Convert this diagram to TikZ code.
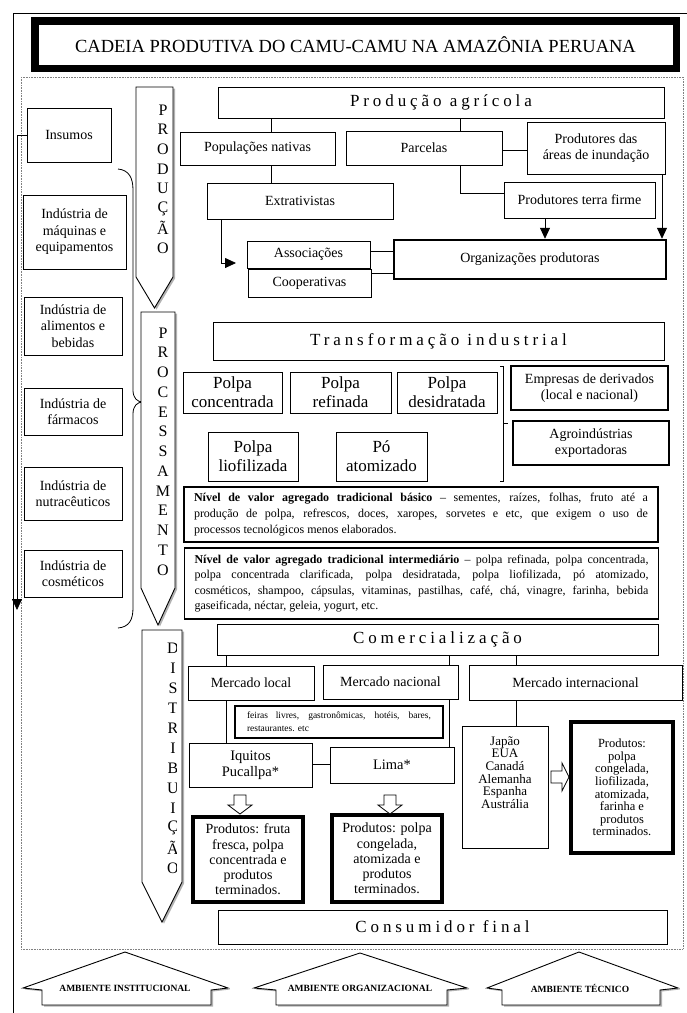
\documentclass[tikz,border=0pt]{standalone}
\usepackage{fontspec}
\setmainfont{Liberation Serif}
\newfontfamily\spacedfont[LetterSpace=23]{Liberation Serif}
\usetikzlibrary{arrows.meta,shadows}
\tolerance=9999
\hyphenpenalty=10000
\begin{document}
\begin{tikzpicture}[x=1pt,y=-1pt,
  every node/.style={inner sep=0pt},
  box/.style={draw, line width=0.8pt, align=center, font=\fontsize{14}{16.4}\selectfont},
  bigbox/.style={box, font=\fontsize{17}{19.3}\selectfont},
  headbox/.style={box, font=\spacedfont\fontsize{17}{20}\selectfont},
  thickbox/.style={box, line width=3.5pt, font=\fontsize{14}{15.2}\selectfont},
  para/.style={draw, line width=1.1pt, inner xsep=10pt, text width=454pt, align=justify},
  link/.style={draw, line width=0.8pt},
  arr/.style={link, -{Triangle[length=11pt,width=10pt]}},
  stage/.style={draw, line width=0.9pt, fill=white, drop shadow={shadow xshift=2pt, shadow yshift=-1.5pt, opacity=0.3, fill=black}},
  stletter/.style={font=\fontsize{16}{16}\selectfont},
  hollow/.style={draw, line width=0.8pt, fill=white},
  envtext/.style={font=\bfseries\fontsize{9.5}{10}\selectfont},
  dotframe/.style={draw=gray, line width=0.6pt, dash pattern=on 0.8pt off 0.8pt}
]
\useasboundingbox (0,0) rectangle (687,1013);
\fill[white] (0,0) rectangle (687,1013);

% frames
\draw[line width=0.8pt] (13,1013) -- (13,13) -- (687,13);
\path[dotframe] (21,77) rectangle (683,949);

% title
\node[draw, line width=7.5pt, minimum width=641.5, minimum height=47.5, font=\fontsize{18.5}{20}\selectfont] (title) at (355.5,44.5) {CADEIA PRODUTIVA DO CAMU-CAMU NA AMAZÔNIA PERUANA};

% left column
\node[box, minimum width=84, minimum height=54] (insumos) at (69,135) {Insumos};
\node[box, minimum width=103, minimum height=74] (maq) at (74.5,232) {Indústria de\\máquinas e\\equipamentos};
\node[box, minimum width=98, minimum height=58] (alim) at (73,326) {Indústria de\\alimentos e\\bebidas};
\node[box, minimum width=98, minimum height=47] (farm) at (73,411.5) {Indústria de\\fármacos};
\node[box, minimum width=98, minimum height=53] (nutra) at (73,493.5) {Indústria de\\nutracêuticos};
\node[box, minimum width=98, minimum height=47] (cosm) at (73,573.5) {Indústria de\\cosméticos};
\coordinate (insend) at (17,610);
\draw[arr] (insumos.west) -| (insend);

% brace
\draw[line width=0.8pt] (118,169) .. controls (129,170) and (133,178) .. (133,190) -- (133,390)
  .. controls (133,398) and (137,402) .. (143,402)
  .. controls (137,402) and (133,406) .. (133,414) -- (133,608)
  .. controls (133,620) and (129,627) .. (118,628);

% stage arrows
\draw[stage] (136,87) -- (173,87) -- (173,277) -- (154.5,308) -- (136,277) -- cycle;
\draw[stage] (141,312) -- (175,312) -- (175,588) -- (158,625) -- (141,588) -- cycle;
\draw[stage] (142,630) -- (182,630) -- (182,882) -- (162,922) -- (142,882) -- cycle;
\foreach \l [count=\i] in {P,R,O,D,U,Ç,Ã,O}
  \node[stletter] (pl\i) at (163,{110+(\i-1)*19.7}) {\l};
\foreach \l [count=\i] in {P,R,O,C,E,S,S,A,M,E,N,T,O}
  \node[stletter] (ql\i) at (163,{333+(\i-1)*19.75}) {\l};
\begin{scope}
  \clip (140,628) rectangle (176.5,925);
  \foreach \l [count=\i] in {D,I,S,T,R,I,B,U,I,Ç,Ã,O}
    \node[stletter] (dl\i) at (173,{648+(\i-1)*20}) {\l};
\end{scope}

% production
\node[headbox, minimum width=446, minimum height=31] (prodagr) at (441,102.5) {Produção agrícola};
\node[box, minimum width=155, minimum height=33] (popnat) at (257.5,148.5) {Populações nativas};
\node[box, minimum width=156, minimum height=34] (parcelas) at (424,148) {Parcelas};
\node[box, minimum width=138, minimum height=52] (inund) at (596,148) {Produtores das\\áreas de inundação};
\node[box, minimum width=186, minimum height=36] (extrat) at (300,201) {Extrativistas};
\node[box, minimum width=151, minimum height=36] (terrafirme) at (579.5,200) {Produtores terra firme};
\node[box, line width=2.5pt, minimum width=272, minimum height=39] (orgprod) at (530,259.5) {Organizações produtoras};
\node[box, minimum width=123, minimum height=27] (assoc) at (308.5,254.5) {Associações};
\node[box, minimum width=123, minimum height=28] (coop) at (309.5,283) {Cooperativas};

\coordinate (c271) at (271,0);
\coordinate (c460) at (460,0);
\coordinate (c545) at (545,0);
\coordinate (c662) at (662,0);
\coordinate (c221) at (221,0);
\coordinate (y150) at (0,150);
\coordinate (y193) at (0,193);
\coordinate (y251) at (0,251);
\coordinate (y273) at (0,273);
\coordinate (exend) at (236,263);
\draw[link] (c271 |- prodagr.south) -- (c271 |- popnat.north);
\draw[link] (c460 |- prodagr.south) -- (c460 |- parcelas.north);
\draw[link] (parcelas.east |- y150) -- (inund.west |- y150);
\draw[link] (c271 |- popnat.south) -- (c271 |- extrat.north);
\draw[link] (c460 |- parcelas.south) |- (terrafirme.west |- y193);
\draw[arr] (c545 |- terrafirme.south) -- (c545 |- orgprod.north);
\draw[arr] (c662 |- inund.south) -- (c662 |- orgprod.north);
\draw[arr] (c221 |- extrat.south) |- (exend);
\draw[link] (assoc.east |- y251) -- (orgprod.west |- y251);
\draw[link] (coop.east |- y273) -- (orgprod.west |- y273);

% processing
\node[headbox, minimum width=451, minimum height=38] (transf) at (438.5,341) {Transformação industrial};
\node[bigbox, minimum width=99, minimum height=41] (pconc) at (232.5,392.5) {Polpa\\concentrada};
\node[bigbox, minimum width=101, minimum height=41] (pref) at (340.5,392.5) {Polpa\\refinada};
\node[bigbox, minimum width=100, minimum height=41] (pdes) at (447,392.5) {Polpa\\desidratada};
\node[bigbox, minimum width=90, minimum height=49] (pliof) at (253,456.5) {Polpa\\liofilizada};
\node[bigbox, minimum width=91, minimum height=49] (poatom) at (381.5,456.5) {Pó\\atomizado};
\draw[line width=0.8pt] (500,366) -- (503,366) -- (503,481) -- (500,481);
\draw[line width=0.8pt] (503,423) -- (508,423);
\node[box, line width=1.3pt, minimum width=157, minimum height=44] (empresas) at (589.5,388) {Empresas de derivados\\(local e nacional)};
\node[box, line width=1.3pt, minimum width=156, minimum height=44] (agro) at (591,443) {Agroindústrias\\exportadoras};
\node[para, minimum height=55, font=\fontsize{12}{16}\selectfont] (nivel1) at (421,514.5) {\textbf{Nível de valor agregado tradicional básico} – sementes, raízes, folhas, fruto até a\linebreak produção de polpa, refrescos, doces, xaropes, sorvetes e etc, que exigem o uso de\linebreak processos tecnológicos menos elaborados.};
\node[para, minimum height=71, font=\fontsize{12}{15.4}\selectfont] (nivel2) at (421.5,583.5) {\textbf{Nível de valor agregado tradicional intermediário} – polpa refinada, polpa concentrada,\linebreak polpa concentrada clarificada, polpa desidratada, polpa liofilizada, pó atomizado,\linebreak cosméticos, shampoo, cápsulas, vitaminas, pastilhas, café, chá, vinagre, farinha, bebida\linebreak gaseificada, néctar, geleia, yogurt, etc.};

% distribution
\node[headbox, minimum width=441, minimum height=31] (comerc) at (437.5,639.5) {Comercialização};
\node[box, minimum width=126, minimum height=34] (mlocal) at (251,683) {Mercado local};
\node[box, minimum width=135, minimum height=34] (mnac) at (390.5,682) {Mercado nacional};
\node[box, minimum width=213, minimum height=35] (minter) at (575.5,682.5) {Mercado internacional};
\node[draw, line width=1.1pt, inner xsep=12pt, text width=184pt, minimum height=32, align=justify, font=\fontsize{9.5}{12.7}\selectfont] (feiras) at (339,722) {feiras livres, gastronômicas, hotéis, bares,\linebreak restaurantes. etc};
\node[box, minimum width=123, minimum height=44, font=\fontsize{14.5}{15.5}\selectfont] (iquitos) at (250.5,765) {Iquitos\\Pucallpa*};
\node[box, minimum width=124, minimum height=36, font=\fontsize{14.5}{15.5}\selectfont] (lima) at (392,765) {Lima*};
\node[thickbox, minimum width=110, minimum height=85] (prod1) at (248,859.5) {Produtos: fruta\\fresca, polpa\\concentrada e\\produtos\\terminados.};
\node[thickbox, minimum width=110, minimum height=87] (prod2) at (387,858.5) {Produtos: polpa\\congelada,\\atomizada e\\produtos\\terminados.};
\node[box, minimum width=86, minimum height=122] (japao) at (505,787) {};
\node[align=center, font=\fontsize{13}{12.6}\selectfont] (japaotxt) at (505,772.5) {Japão\\EUA\\Canadá\\Alemanha\\Espanha\\Austrália};
\node[box, line width=4pt, minimum width=102, minimum height=131, font=\fontsize{12.5}{12.6}\selectfont] (prod3) at (622,787.5) {Produtos:\\polpa\\congelada,\\liofilizada,\\atomizada,\\farinha e\\produtos\\terminados.};
\node[headbox, minimum width=449, minimum height=34] (consum) at (442.5,927) {Consumidor final};

\coordinate (c226) at (226,0);
\coordinate (c449) at (449,0);
\coordinate (c516) at (516.5,0);
\coordinate (y764) at (0,764);
\draw[link] (c226 |- comerc.south) -- (c226 |- mlocal.north);
\draw[link] (c226 |- mlocal.south) -- (c226 |- iquitos.north);
\draw[link] (c449 |- comerc.south) -- (c449 |- mnac.north);
\draw[link] (c449 |- mnac.south) -- (c449 |- lima.north);
\draw[link] (c516 |- comerc.south) -- (c516 |- minter.north);
\draw[link] (c516 |- minter.south) -- (c516 |- japao.north);
\draw[link] (iquitos.east |- y764) -- (lima.west |- y764);

% hollow block arrows
\draw[hollow] (234,795) -- (246,795) -- (246,805) -- (252,805) -- (240,814) -- (228,805) -- (234,805) -- cycle;
\draw[hollow] (384,795) -- (396,795) -- (396,805) -- (402,805) -- (390,814) -- (378,805) -- (384,805) -- cycle;
\draw[hollow] (551,771) -- (562,771) -- (562,763) -- (569,777) -- (562,791) -- (562,783) -- (551,783) -- cycle;

% environment arrows
\draw[stage] (125,952) -- (228,988) -- (211,990) -- (211,1005) -- (42,1005) -- (42,990) -- (23,988) -- cycle;
\draw[stage] (360,953) -- (467,988) -- (447,990) -- (447,1005) -- (276,1005) -- (276,990) -- (254,988) -- cycle;
\draw[stage] (579,952) -- (678,988) -- (660,990) -- (660,1005) -- (502,1005) -- (502,990) -- (487,988) -- cycle;
\node[envtext] (amb1) at (125,988) {AMBIENTE INSTITUCIONAL};
\node[envtext] (amb2) at (360,988) {AMBIENTE ORGANIZACIONAL};
\node[envtext] (amb3) at (580,988) {AMBIENTE TÉCNICO};
\end{tikzpicture}
\end{document}
